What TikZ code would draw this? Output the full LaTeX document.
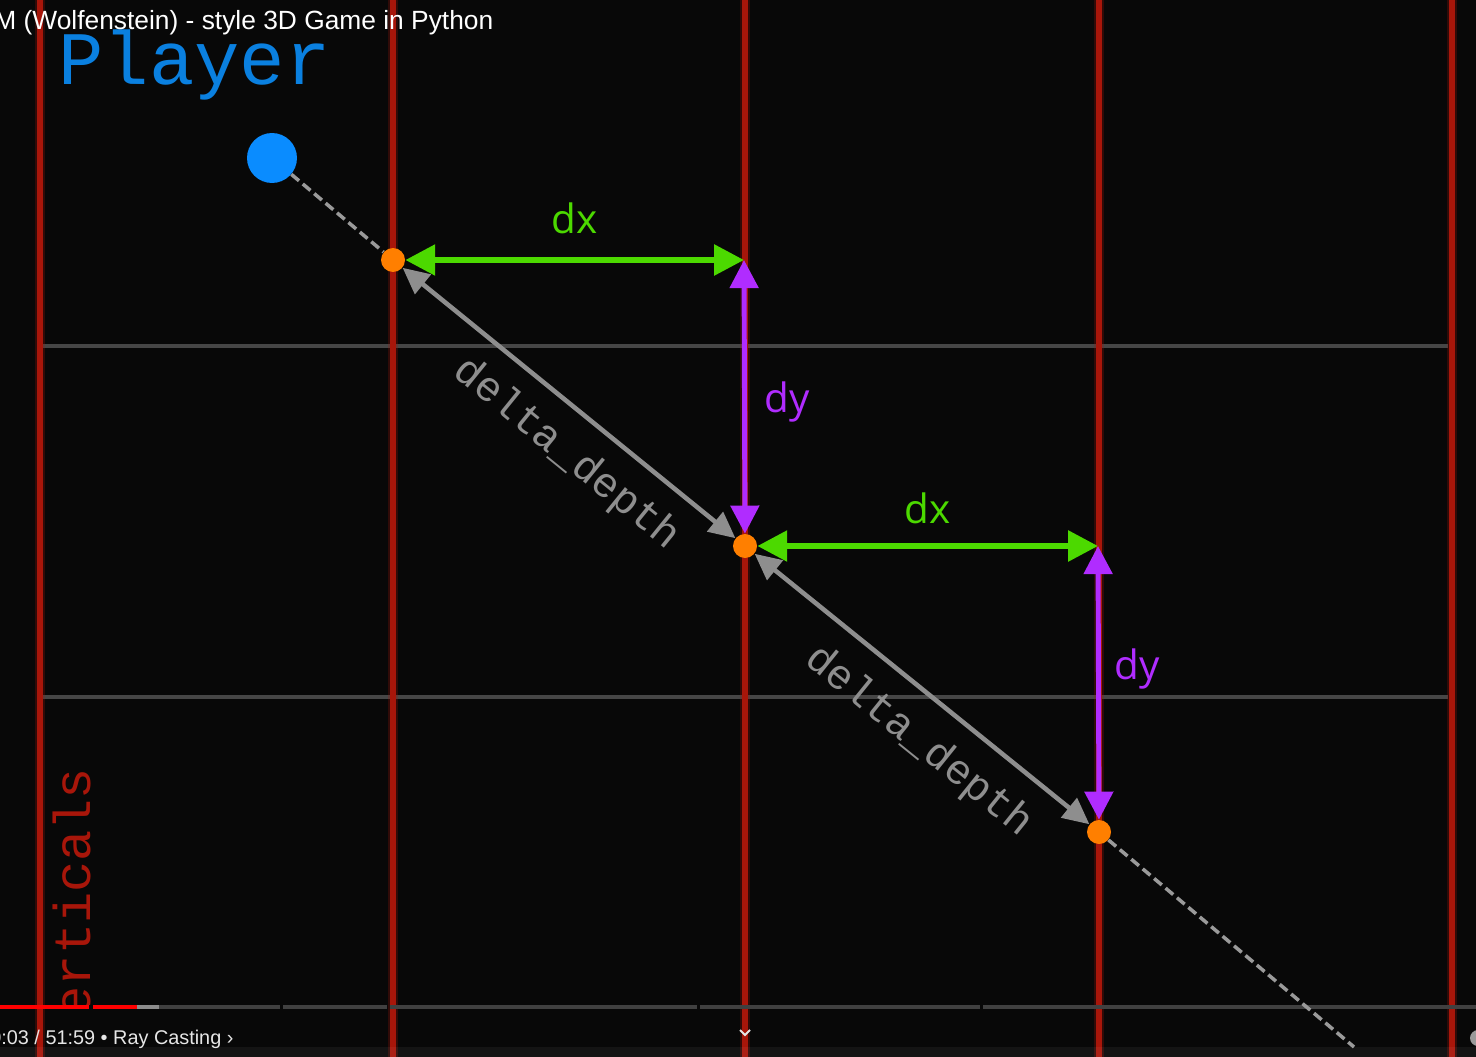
\documentclass[tikz,border=0pt]{standalone}
\usepackage{fontspec}
\newfontfamily\monofont{Liberation Mono}
\newfontfamily\uifont{Liberation Sans}
\newfontfamily\labelfont{Open Sans}
\usetikzlibrary{arrows.meta}
\definecolor{rayBg}{HTML}{080808}
\definecolor{rayWall}{HTML}{A8160A}
\definecolor{rayGrid}{HTML}{464646}
\definecolor{rayBlue}{HTML}{0A8CFF}
\definecolor{rayText}{HTML}{0A80E0}
\definecolor{rayOrange}{HTML}{FF7F00}
\definecolor{rayGreen}{HTML}{4CD900}
\definecolor{rayPurple}{HTML}{B02CFF}
\definecolor{rayGray}{HTML}{8E8E8E}
\definecolor{rayDash}{HTML}{9A9A9A}
\definecolor{ytRed}{HTML}{FF0000}
\definecolor{ytBar}{HTML}{404040}
\definecolor{ytBuf}{HTML}{8C8C8C}
\definecolor{ytText}{HTML}{E6E6E6}

\begin{document}
\begin{tikzpicture}[
  x=0.02cm, y=-0.02cm,
  wall/.style={draw=rayWall, line width=3.4pt},
  gridline/.style={draw=rayGrid, line width=2.2pt},
  plr/.style={circle, fill=rayBlue, inner sep=0pt, minimum size=1cm},
  hit/.style={circle, fill=rayOrange, inner sep=0pt, minimum size=0.48cm},
  rayline/.style={draw=rayDash, line width=2pt, dash pattern=on 5.7pt off 2.8pt},
  dxa/.style={{Triangle[length=17pt,width=17pt]}-{Triangle[length=17pt,width=17pt]},
              draw=rayGreen, line width=3.4pt},
  dya/.style={{Triangle[length=16pt,width=16pt]}-{Triangle[length=16pt,width=16pt]},
              draw=rayPurple, line width=2.8pt},
  dep/.style={{Triangle[length=15pt,width=14pt]}-{Triangle[length=15pt,width=14pt]},
              draw=rayGray, line width=2.6pt},
  lbl/.style={font=\labelfont\fontsize{23}{23}\selectfont, inner sep=0pt},
  deplbl/.style={font=\monofont\fontsize{24}{24}\selectfont, text=rayGray, inner sep=0pt},
  plrtxt/.style={font=\monofont\fontsize{43}{43}\selectfont, text=rayText, inner sep=0pt},
  walltxt/.style={font=\monofont\fontsize{29.5}{29.5}\selectfont, text=rayWall, inner sep=0pt},
  ttl/.style={font=\uifont\fontsize{15}{15}\selectfont, text=white, inner sep=0pt},
  bar/.style={font=\uifont\fontsize{11.3}{11.3}\selectfont, text=ytText, inner sep=0pt}
]
\useasboundingbox (0,0) rectangle (1476,1057);
\clip (0,0) rectangle (1476,1057);
\fill[rayBg] (0,0) rectangle (1476,1057);

% ---- map grid
\foreach \y in {346,697}{\draw[gridline] (42,\y) -- (1448,\y);}
\foreach \x in {40,393,745,1099,1452}{
  \draw[draw=rayWall, line width=6pt, opacity=0.25] (\x,0) -- (\x,1057);
  \draw[wall] (\x,0) -- (\x,1057);}

% ---- labels
\node[plrtxt, anchor=base west] (plabel) at (58,85) {Player};
\begin{scope}
  \clip (0,0) rectangle (1476,1004);
  \node[walltxt, rotate=90, anchor=base east] (vlabel) at (90,768) {verticals};
\end{scope}

% ---- player and hits
\node[plr] (player) at (272,158) {};
\node[hit] (d1) at (393,260) {};
\node[hit] (d2) at (745,546) {};
\node[hit] (d3) at (1099,832) {};
\coordinate (c1) at (744,260);
\coordinate (c2) at (1098,546);
\coordinate (rayend) at (1354,1047);

% ---- video bar
\fill[ytRed] (0,1005) rectangle (89,1009);
\fill[ytRed] (93,1005) rectangle (137,1009);
\fill[ytBuf] (137,1005) rectangle (159,1009);
\foreach \a/\b in {159/280,283/387,390/697,700/980,983/1476}{
  \fill[ytBar] (\a,1005) rectangle (\b,1009);}
\fill[white, opacity=0.05] (0,1047) rectangle (1476,1057);
\node[bar, anchor=base west] (time) at (-10,1044) {0:03 / 51:59 • Ray Casting ›};
\draw[ytText, line width=1.1pt] (740,1030) -- (745,1035) -- (750,1030);
\fill[rayDash] (1478,1038) circle (8);
\node[ttl, anchor=base west] (title) at (-6,30) {M (Wolfenstein) - style 3D Game in Python};

% ---- ray
\draw[rayline] (player) -- (d1);
\draw[rayline] (d3) -- (rayend);

% ---- steps
\draw[dep] (d1) -- (d2) node[deplbl, pos=0.57, sloped, below=11pt] {delta\_depth};
\draw[dep] (d2) -- (d3) node[deplbl, pos=0.57, sloped, below=12pt] {delta\_depth};
\draw[dxa] (d1) -- (c1) node[lbl, text=rayGreen, midway, above=13pt] {dx};
\draw[dxa] (d2) -- (c2) node[lbl, text=rayGreen, midway, above=11pt] {dx};
\draw[dya] (c1) -- (d2) node[lbl, text=rayPurple, pos=0.52, right=10pt] {dy};
\draw[dya] (c2) -- (d3) node[lbl, text=rayPurple, pos=0.45, right=8pt] {dy};
\end{tikzpicture}
\end{document}
